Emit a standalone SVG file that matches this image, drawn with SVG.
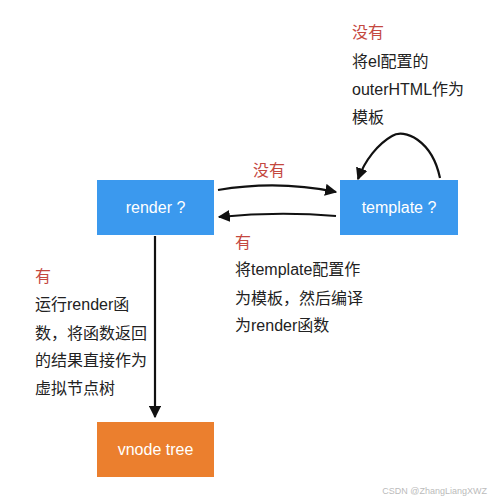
<svg xmlns="http://www.w3.org/2000/svg" width="496" height="500" viewBox="0 0 496 500">
<defs>
<style>
.t{font-family:"Liberation Sans","Noto Sans CJK SC",sans-serif;font-size:16px;fill:#222}
.r{fill:#C4483F}
.w{fill:#fff;text-anchor:middle;font-size:16px}
.c{fill:none;stroke:#111;stroke-width:2.2}
</style>
<marker id="a" viewBox="0 0 10 10" refX="9" refY="5" markerWidth="5.5" markerHeight="5.5" orient="auto-start-reverse" markerUnits="strokeWidth">
<path d="M0,0 L10,5 L0,10 z" fill="#111"/>
</marker>
</defs>
<rect width="496" height="500" fill="#fff"/>
<g id="connectors">
<path class="c" d="M218,190 Q278,180 336,192" marker-end="url(#a)"/>
<path class="c" d="M336,216 Q278,211 219,217" marker-end="url(#a)"/>
<path class="c" d="M440,178 C432,140 404,128 392,136 C378,144 365,160 358,179" marker-end="url(#a)"/>
<path class="c" d="M155,236 L155,417" marker-end="url(#a)"/>
</g>
<g id="render">
<rect x="97" y="180" width="117" height="55" fill="#3B99EE"/>
<text class="t w" x="155.5" y="213">render ?</text>
</g>
<g id="template">
<rect x="340" y="180" width="118" height="55" fill="#3B99EE"/>
<text class="t w" x="399" y="213">template ?</text>
</g>
<g id="vnode">
<rect x="97" y="422" width="117" height="55" fill="#EB7F2E"/>
<text class="t w" x="155.5" y="455">vnode tree</text>
</g>
<g id="labels">
<text class="t r" x="352" y="38">没有</text>
<text class="t" x="352" y="67">将el配置的</text>
<text class="t" x="352" y="95">outerHTML作为</text>
<text class="t" x="352" y="123">模板</text>
<text class="t r" x="253" y="176">没有</text>
<text class="t r" x="235" y="248">有</text>
<text class="t" x="235" y="275">将template配置作</text>
<text class="t" x="235" y="304">为模板，然后编译</text>
<text class="t" x="235" y="331">为render函数</text>
<text class="t r" x="35" y="282">有</text>
<text class="t" x="35" y="310">运行render函</text>
<text class="t" x="35" y="339">数，将函数返回</text>
<text class="t" x="35" y="366">的结果直接作为</text>
<text class="t" x="35" y="394">虚拟节点树</text>
<text x="487" y="494" text-anchor="end" style="font-family:'Liberation Sans',sans-serif;font-size:9px;fill:#bbb">CSDN @ZhangLiangXWZ</text>
</g>
</svg>
